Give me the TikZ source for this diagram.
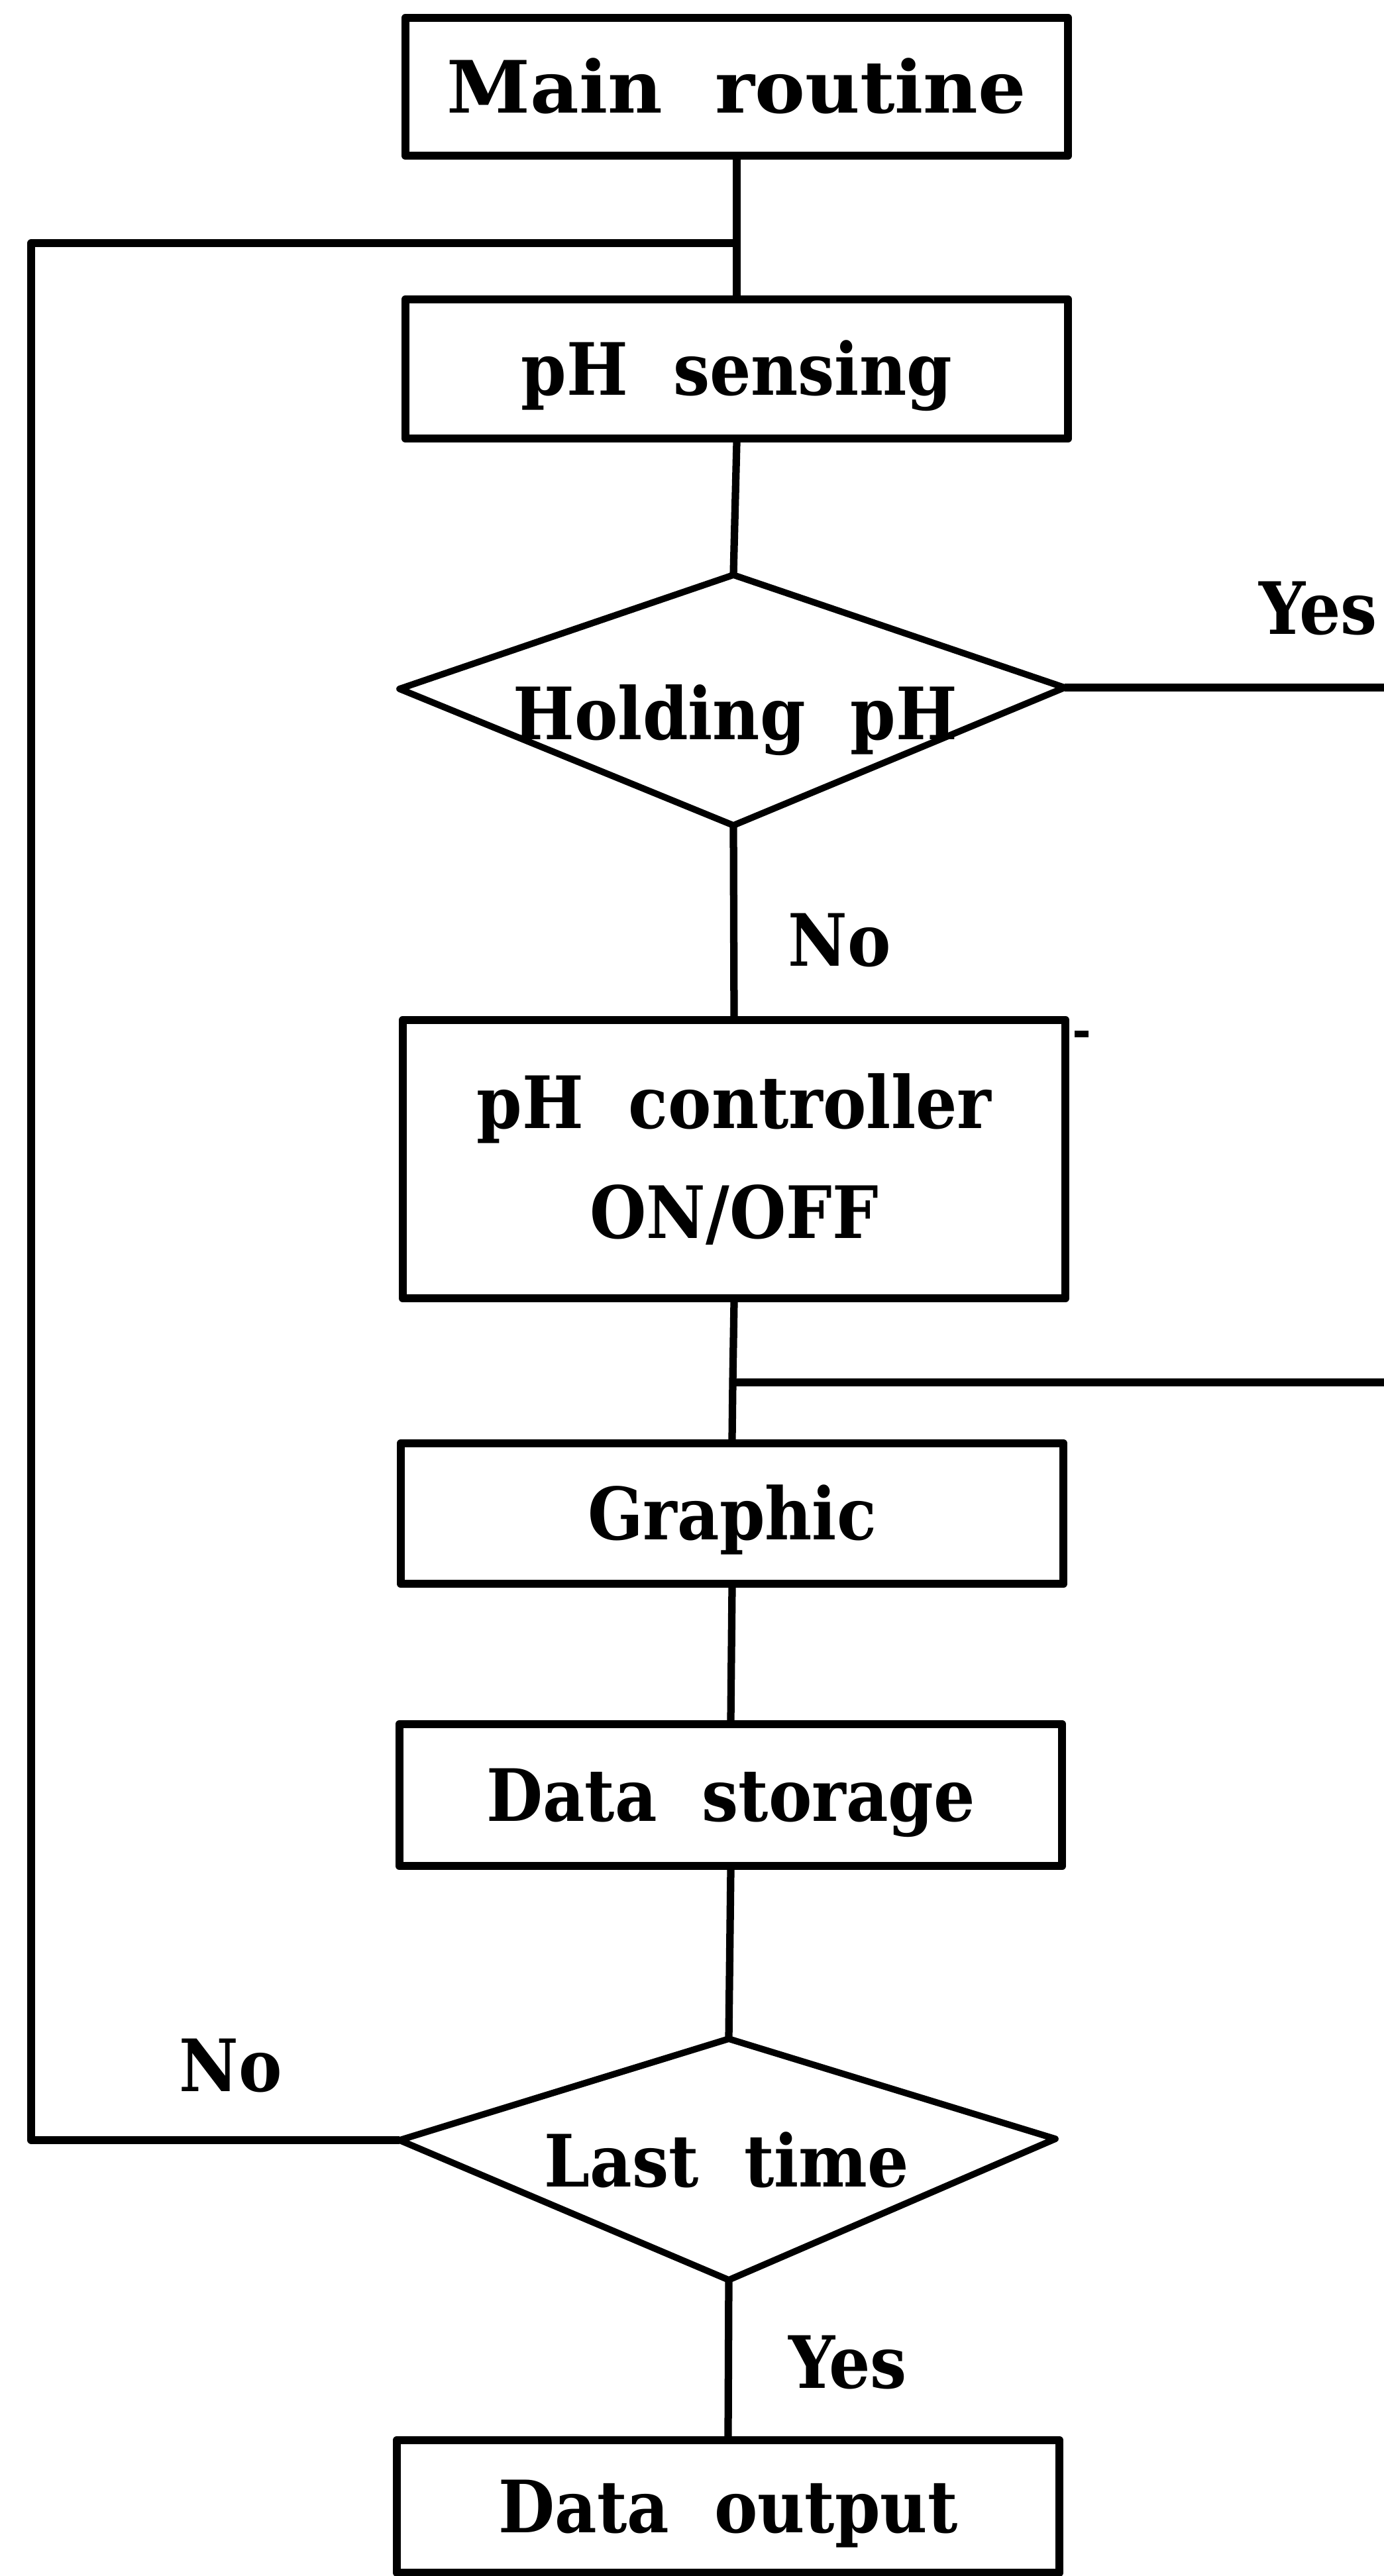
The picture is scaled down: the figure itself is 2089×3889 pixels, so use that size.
\documentclass[tikz,border=0pt]{standalone}
\usepackage{fontspec}
\setmainfont{DejaVu Serif Condensed}[WordSpace=2]
\begin{document}
\begin{tikzpicture}[x=0.01cm,y=-0.01cm,
  line join=round,
  txt/.style={font=\fontsize{31}{47}\selectfont\bfseries, inner sep=0pt,
    text height=22.6pt, text depth=0pt},
  box/.style={draw, line width=3.4pt, minimum width=10cm, inner sep=0pt,
    font=\fontsize{31}{47}\selectfont\bfseries, text height=22.6pt, text depth=0pt},
  link/.style={line width=3.2pt},
  dia/.style={draw, line width=2.8pt}]
\useasboundingbox (0,0) rectangle (2089,3889);

% process boxes
\node[box, minimum height=2.08cm] (main) at (1112,131) {\scalebox{1.16}[1]{Main routine}};
\node[box, minimum height=2.10cm] (sense) at (1112,557) {pH sensing};
\node[box, minimum height=4.20cm, align=center, text height=, text depth=] (ctrl) at (1108,1750)
  {pH controller\\ON/OFF};
\node[box, minimum height=2.12cm] (graph) at (1105,2285) {Graphic};
\node[box, minimum height=2.14cm] (store) at (1103,2710) {Data storage};
\node[box, minimum height=2.00cm] (out) at (1099,3784) {Data output};

% decision: holding pH
\coordinate (holdT) at (1107,868);
\coordinate (holdL) at (603,1040);
\coordinate (holdR) at (1607,1038);
\coordinate (holdB) at (1107,1246);
\draw[dia] (holdT) -- (holdR) -- (holdB) -- (holdL) -- cycle;
\node[txt] (holdtxt) at (1110,1077) {Holding pH};

% decision: last time
\coordinate (lastT) at (1100,3078);
\coordinate (lastL) at (603,3231);
\coordinate (lastR) at (1593,3229);
\coordinate (lastB) at (1100,3442);
\draw[dia] (lastT) -- (lastR) -- (lastB) -- (lastL) -- cycle;
\node[txt] (lasttxt) at (1097,3262) {Last time};

% branch labels
\node[txt] (yesA) at (1990,918) {Yes};
\node[txt] (noA) at (1267,1419) {No};
\node[txt] (noB) at (348,3118) {No};
\node[txt] (yesB) at (1280,3566) {Yes};

% connectors
\coordinate (loopJ) at (1112,367);
\coordinate (loopC) at (47,3231);
\coordinate (join) at (1106,2087);
\coordinate (holdEnd) at (2089,1038);
\coordinate (joinEnd) at (2089,2087);

\draw[link] (main.south) -- (loopJ) -- (sense.north);
\draw[link] (sense.south) -- (holdT);
\draw[link] (holdR) -- (holdEnd);
\draw[link] (holdB) -- (ctrl.north);
\draw[link] (ctrl.south) -- (join) -- (graph.north);
\draw[link] (join) -- (joinEnd);
\draw[link] (graph.south) -- (store.north);
\draw[link] (store.south) -- (lastT);
\draw[link] (lastB) -- (out.north);
\draw[link] (lastL) -- (loopC) |- (loopJ);

% small mark beside the controller box
\fill (1622,1556) rectangle (1643,1566);
\end{tikzpicture}
\end{document}
